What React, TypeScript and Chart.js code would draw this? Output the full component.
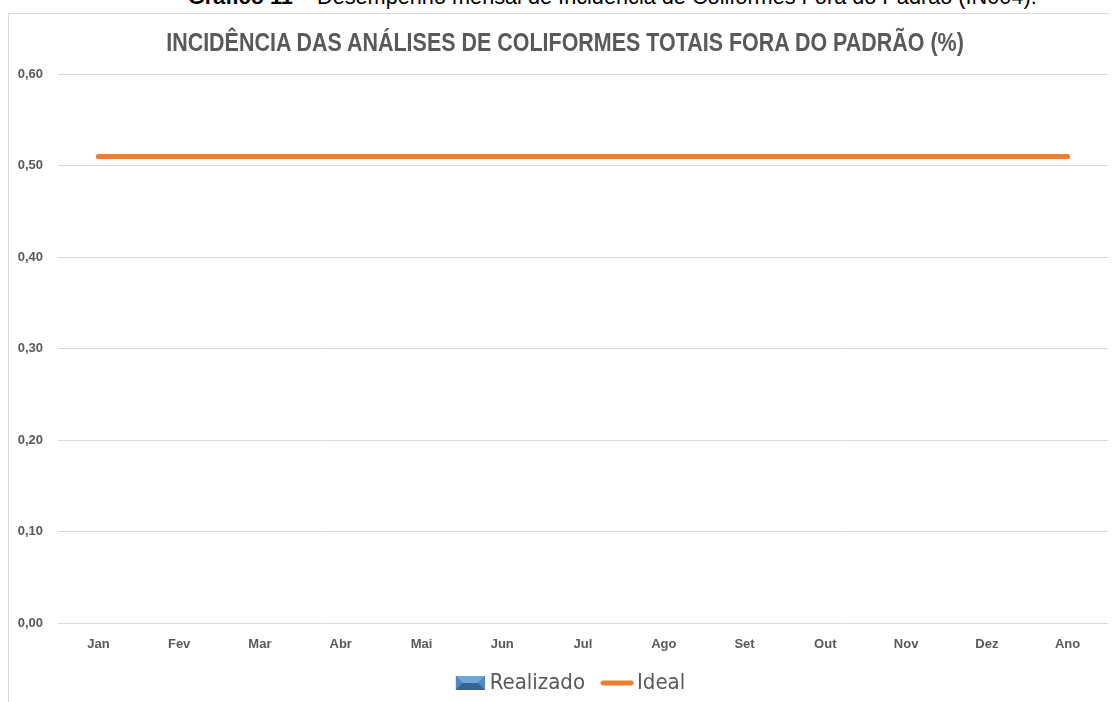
import React, { useEffect, useRef } from "react";
import { Chart, registerables } from "chart.js";

Chart.register(...registerables);

const categories = ["Jan", "Fev", "Mar", "Abr", "Mai", "Jun", "Jul", "Ago", "Set", "Out", "Nov", "Dez", "Ano"];
const realizado = [0, 0, 0, 0, 0, 0, 0, 0, 0, 0, 0, 0, 0];
const ideal = [0.51, 0.51, 0.51, 0.51, 0.51, 0.51, 0.51, 0.51, 0.51, 0.51, 0.51, 0.51, 0.51];
const seriesNames = ["Realizado", "Ideal"];
const chartTitle = "INCIDÊNCIA DAS ANÁLISES DE COLIFORMES TOTAIS FORA DO PADRÃO (%)";
const captionBold = "Gráfico 11 –";
const captionText = " Desempenho mensal de Incidência de Coliformes Fora do Padrão (IN004).";

const GREY = "#595959";
const ORANGE = "#ED7D31";
const NARROW = '"DejaVu Sans Condensed", "Liberation Sans", Arial, sans-serif';
const SANS = '"Liberation Sans", Arial, sans-serif';

function makeBarIcon(): HTMLCanvasElement {
  // 46 wide: the 29px icon sits in the right part so it is shifted right of the slot center
  const c = document.createElement("canvas");
  c.width = 46;
  c.height = 14;
  const g = c.getContext("2d")!;
  g.translate(17, 0);
  g.fillStyle = "#41719C";
  g.fillRect(0, 0, 29, 14);
  g.fillStyle = "#6FA8DC";
  g.beginPath();
  g.moveTo(0, 0);
  g.lineTo(29, 0);
  g.lineTo(22, 7);
  g.lineTo(7, 7);
  g.closePath();
  g.fill();
  g.fillStyle = "#4F88C6";
  g.beginPath();
  g.moveTo(0, 0);
  g.lineTo(7, 7);
  g.lineTo(0, 14);
  g.closePath();
  g.fill();
  g.beginPath();
  g.moveTo(29, 0);
  g.lineTo(22, 7);
  g.lineTo(29, 14);
  g.closePath();
  g.fill();
  g.fillStyle = "#3A6490";
  g.beginPath();
  g.moveTo(0, 14);
  g.lineTo(7, 7);
  g.lineTo(22, 7);
  g.lineTo(29, 14);
  g.closePath();
  g.fill();
  return c;
}

function makeLineIcon(): HTMLCanvasElement {
  const c = document.createElement("canvas");
  c.width = 53;
  c.height = 6;
  const g = c.getContext("2d")!;
  g.strokeStyle = ORANGE;
  g.lineWidth = 5;
  g.lineCap = "round";
  g.beginPath();
  g.moveTo(20.5, 3);
  g.lineTo(48.5, 3);
  g.stroke();
  return c;
}

function measureWidth(text: string, font: string): number {
  const c = document.createElement("canvas");
  const g = c.getContext("2d")!;
  g.font = font;
  return g.measureText(text).width;
}

export default function App() {
  const ref = useRef<HTMLCanvasElement | null>(null);
  const titleFont = `bold 26px ${SANS}`;
  const titleScale = 800 / measureWidth(chartTitle, titleFont);

  useEffect(() => {
    if (!ref.current) return;
    const barIcon = makeBarIcon();
    const lineIcon = makeLineIcon();
    const chart = new Chart(ref.current, {
      type: "bar",
      data: {
        labels: categories,
        datasets: [
          {
            type: "bar",
            label: seriesNames[0],
            data: realizado,
            backgroundColor: "#4F81BD",
            borderWidth: 0,
            order: 2,
          },
          {
            type: "line",
            label: seriesNames[1],
            data: ideal,
            borderColor: ORANGE,
            backgroundColor: ORANGE,
            borderWidth: 5,
            borderCapStyle: "round",
            pointRadius: 0,
            tension: 0,
            order: 1,
          },
        ],
      },
      options: {
        responsive: false,
        animation: false,
        layout: { padding: { top: 74, left: 0, right: 4, bottom: -2 } },
        plugins: {
          title: { display: false },
          legend: {
            position: "bottom",
            labels: {
              color: GREY,
              font: { family: NARROW, size: 22 },
              usePointStyle: true,
              pointStyleWidth: 34,
              boxHeight: 14,
              padding: 7,
              generateLabels: () => [
                {
                  text: seriesNames[0],
                  fillStyle: "#4F81BD",
                  strokeStyle: "#4F81BD",
                  lineWidth: 0,
                  pointStyle: barIcon,
                  fontColor: GREY,
                  datasetIndex: 0,
                  hidden: false,
                },
                {
                  text: seriesNames[1],
                  fillStyle: ORANGE,
                  strokeStyle: ORANGE,
                  lineWidth: 0,
                  pointStyle: lineIcon,
                  fontColor: GREY,
                  datasetIndex: 1,
                  hidden: false,
                },
              ],
            },
          },
          tooltip: { enabled: false },
        },
        scales: {
          x: {
            grid: { display: false, drawTicks: false },
            border: { display: false },
            ticks: {
              color: GREY,
              font: { family: SANS, size: 13, weight: "bold" },
              padding: 13,
              maxRotation: 0,
              autoSkip: false,
            },
          },
          y: {
            min: 0,
            max: 0.6,
            grid: { color: "#D9D9D9", drawTicks: false, lineWidth: 1 },
            border: { display: false },
            ticks: {
              stepSize: 0.1,
              color: GREY,
              font: { family: SANS, size: 13, weight: "bold" },
              padding: 15,
              callback: (v: any) => Number(v).toFixed(2).replace(".", ","),
            },
            afterFit: (scale: any) => {
              scale.width = 58;
            },
          },
        },
      },
      plugins: [
        {
          id: "legendOffset",
          afterLayout: (c: any) => {
            if (c.legend) c.legend.left += 22;
          },
        },
      ],
    } as any);
    return () => chart.destroy();
  }, []);

  return (
    <div style={{ position: "absolute", left: 0, top: 0, width: 1112, height: 702, overflow: "hidden", background: "#fff" }}>
      <div
        style={{
          position: "absolute",
          left: 188,
          top: -14,
          fontFamily: SANS,
          fontSize: 21.7,
          lineHeight: "22px",
          whiteSpace: "nowrap",
          color: "#000",
        }}
      >
        <b>{captionBold}</b>
        {captionText}
      </div>
      <div
        style={{
          position: "absolute",
          left: 8,
          top: 13,
          width: 1100,
          height: 720,
          borderTop: "1px solid #D9D9D9",
          borderLeft: "1px solid #D9D9D9",
        }}
      />
      <canvas ref={ref} width={1112} height={702} style={{ position: "absolute", left: 0, top: 0 }} />
      <div
        style={{
          position: "absolute",
          left: 565,
          top: 29,
          font: titleFont,
          lineHeight: "26px",
          color: GREY,
          whiteSpace: "nowrap",
          transform: `translateX(-50%) scaleX(${titleScale})`,
          transformOrigin: "center",
        }}
      >
        {chartTitle}
      </div>
    </div>
  );
}
